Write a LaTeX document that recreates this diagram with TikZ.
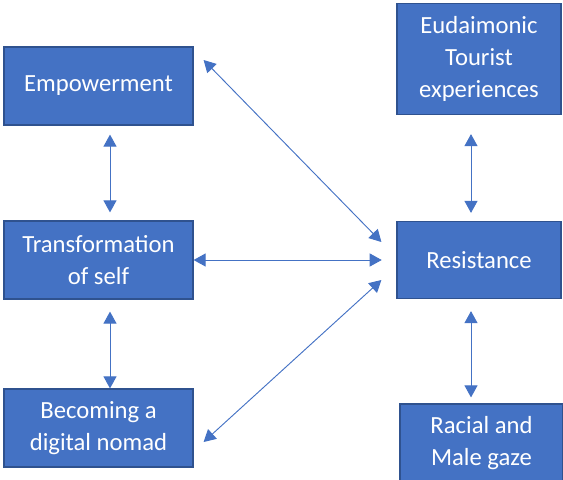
\documentclass[tikz,border=0pt]{standalone}
\usepackage{fontspec}
\setmainfont{Carlito}
\usetikzlibrary{arrows.meta}
\definecolor{boxblue}{HTML}{4472C4}
\definecolor{boxedge}{HTML}{2F528F}
\begin{document}
\begin{tikzpicture}[x=0.75pt,y=-0.75pt,
    concept/.style={draw=boxedge,line width=0.9pt,fill=boxblue,text=white,
        align=center,inner sep=0pt,font=\fontsize{18.5}{24}\selectfont},
    link/.style={boxblue,line width=0.7pt,
        {Triangle[length=9pt,width=9.75pt]}-{Triangle[length=9pt,width=9.75pt]}}]
\useasboundingbox (0,0) rectangle (563,479);
    % left column, all boxes the same size
    \foreach \name/\ypos/\txt in {emp/86/Empowerment,
        trans/260/{Transformation\\of self},
        nomad/428/{Becoming a\\digital nomad}} {
    \node[concept,minimum width=141.75pt,minimum height=58.5pt]
        (\name) at (98.5,\ypos) {\txt};
    }
    % right column
    \node[concept,minimum width=123pt,minimum height=83.25pt]
        (eud) at (479,59) {Eudaimonic\\Tourist\\experiences};
    \node[concept,minimum width=123pt,minimum height=57.75pt]
        (res) at (479,260) {Resistance};
    \node[concept,minimum width=122.25pt,minimum height=58.5pt]
        (gaze) at (481.5,443) {Racial and\\Male gaze};
    % vertical links, a bit off centre as in the sketch
    \draw[link,shorten <=6.75pt,shorten >=6pt]
        ([shift={(11.5,0)}]emp.south) -- ([shift={(11.5,0)}]trans.north);
    \draw[link,shorten <=9pt]
        ([shift={(11.5,0)}]trans.south) -- ([shift={(11.5,0)}]nomad.north);
    \draw[link,shorten <=14.25pt,shorten >=6pt]
        ([shift={(-8,0)}]eud.south) -- ([shift={(-8,0)}]res.north);
    \draw[link,shorten <=9pt,shorten >=4.5pt]
        ([shift={(-8,0)}]res.south) -- ([shift={(-10.5,0)}]gaze.north);
    % links into Resistance
    \draw[link,shorten >=11pt] (trans.east) -- (res.west);
    \draw[link] ([shift={(10,-26)}]emp.east) -- ([shift={(-15,-18)}]res.west);
    \draw[link] ([shift={(10,14)}]nomad.east) -- ([shift={(-15,20)}]res.west);
\end{tikzpicture}
\end{document}
